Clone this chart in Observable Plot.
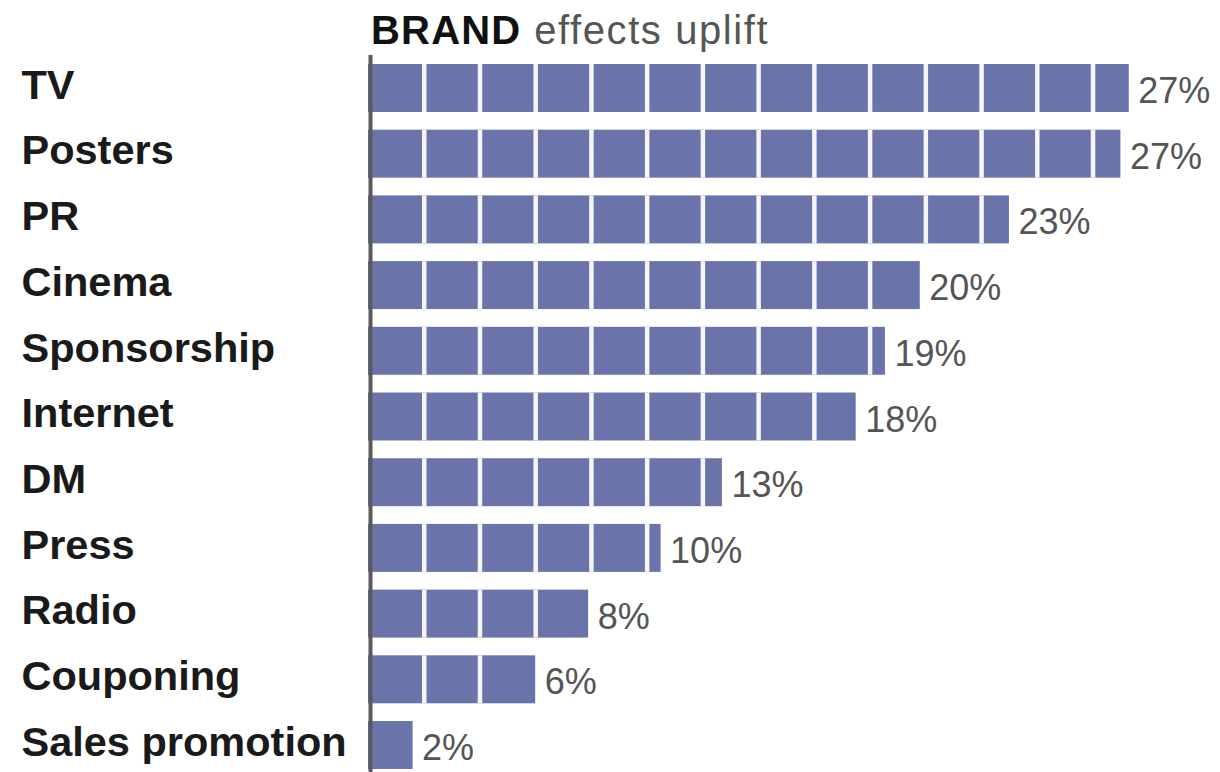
<!DOCTYPE html>
<html>
<head>
<meta charset="utf-8">
<script src="https://cdn.jsdelivr.net/npm/d3@7"></script>
<script src="https://cdn.jsdelivr.net/npm/@observablehq/plot@0.6"></script>
<style>
  html, body { margin: 0; padding: 0; background: #fff; }
  #title { position: absolute; left: 371px; top: 6px; font-family: "Liberation Sans", Arial, sans-serif; font-size: 40px; line-height: 48px; color: #555; white-space: nowrap; letter-spacing: 1.6px; }
  #title b { color: #111; letter-spacing: 1.2px; }
  #chart { position: absolute; left: 0; top: 55px; }
</style>
</head>
<body>
<div id="title"><b>BRAND</b> effects uplift</div>
<div id="chart"></div>
<script>
const categories = ["TV", "Posters", "PR", "Cinema", "Sponsorship", "Internet", "DM", "Press", "Radio", "Couponing", "Sales promotion"];
const values = [27.3, 27.0, 23.0, 19.8, 18.55, 17.5, 12.7, 10.5, 7.9, 6.0, 1.6];
const labels = ["27%", "27%", "23%", "20%", "19%", "18%", "13%", "10%", "8%", "6%", "2%"];
const segmentStep = 2;

const data = categories.map((c, i) => ({category: c, value: values[i], label: labels[i]}));
const gaps = data.flatMap(d => d3.range(segmentStep, d.value, segmentStep).map(x => ({category: d.category, x})));

const chart = Plot.plot({
  width: 1220,
  height: 717,
  marginLeft: 368,
  marginRight: 16,
  marginTop: 0,
  marginBottom: 0,
  x: {domain: [0, 30], axis: null},
  y: {domain: categories, axis: null, paddingInner: 0.27, paddingOuter: 0.0913, align: 0.75, round: false},
  style: {fontFamily: "'Liberation Sans', Arial, sans-serif", background: "#fff"},
  marks: [
    Plot.barX(data, {x: "value", y: "category", fill: "#6b74aa"}),
    Plot.tickX(gaps, {x: "x", y: "category", stroke: "#f5f5fa", strokeWidth: 4.5}),
    Plot.ruleX([0], {dx: 2, stroke: "#5a5a5e", strokeWidth: 4}),
    Plot.text(data, {y: "category", text: "category", frameAnchor: "left", textAnchor: "start", dx: -347, dy: -3, fontSize: 41.5, fontWeight: "bold", fill: "#1a1a1a"}),
    Plot.text(data, {x: "value", y: "category", text: "label", textAnchor: "start", dx: 9, dy: 3, fontSize: 36, fill: "#555"})
  ]
});
document.getElementById("chart").appendChild(chart);
</script>
</body>
</html>
